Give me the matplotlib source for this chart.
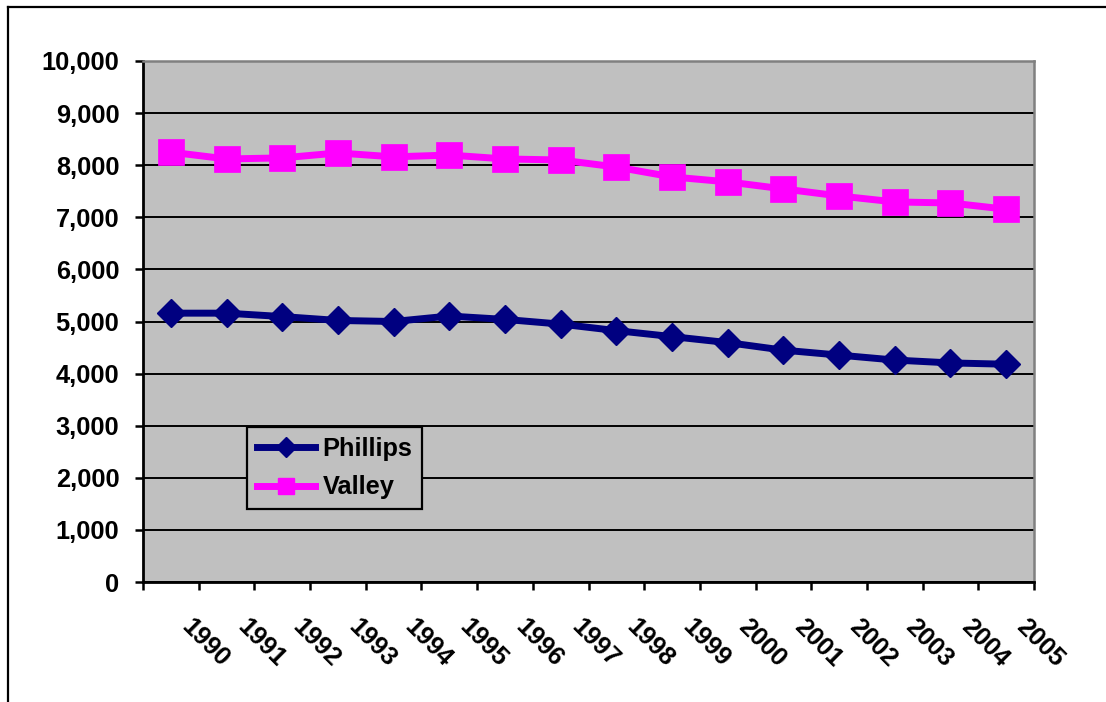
import matplotlib
matplotlib.use("Agg")
import matplotlib.pyplot as plt
from matplotlib.lines import Line2D
from matplotlib.ticker import FuncFormatter, FixedLocator
import matplotlib.transforms as mtransforms
import numpy as np

years = [str(y) for y in range(1990, 2006)]
phillips = [5160, 5160, 5095, 5020, 5000, 5105, 5040, 4950, 4825, 4710, 4595, 4450, 4355, 4260, 4205, 4180]
valley = [8250, 8120, 8140, 8235, 8160, 8195, 8120, 8100, 7965, 7775, 7680, 7545, 7410, 7295, 7275, 7155]
series_names = ["Phillips", "Valley"]

plt.rcParams['font.family'] = ['Liberation Sans', 'DejaVu Sans']
plt.rcParams['font.weight'] = 'bold'
FS = 18.3

fig = plt.figure(figsize=(11.06, 7.02), dpi=100)
ax = fig.add_axes([143/1106, 1-582/702, (1034-143)/1106, (582-61)/702])
ax.set_facecolor('#C0C0C0')

x = np.arange(len(years))
ax.plot(x, phillips, color='#000080', lw=5, marker='D', ms=14.5, mec='#000080', mew=1,
        zorder=3)
ax.plot(x, valley, color='#FF00FF', lw=5, marker='s', ms=19, mec='#FF00FF', mew=0.5,
        zorder=3)

ax.set_xlim(-0.5, len(years) - 0.5)
ax.set_ylim(0, 10000)
ax.yaxis.set_major_locator(FixedLocator(np.arange(0, 10001, 1000)))
ax.yaxis.set_major_formatter(FuncFormatter(lambda v, p: f"{int(v):,}"))
ax.yaxis.grid(True, color='black', lw=1.4)
ax.set_axisbelow(True)

bounds = np.arange(-0.5, len(years), 1.0)
ax.set_xticks(bounds)
ax.set_xticklabels([''] + years)

ax.tick_params(axis='y', direction='out', length=6, width=1.8, pad=11, labelsize=FS)
ax.tick_params(axis='x', direction='out', length=5.5, width=1.8, pad=18, labelsize=FS)

offset = mtransforms.ScaledTranslation(-5/100, 0, fig.dpi_scale_trans)
for lab in ax.get_xticklabels():
    lab.set_rotation(-45)
    lab.set_ha('left')
    lab.set_va('top')
    lab.set_rotation_mode('anchor')
    lab.set_fontweight('bold')
    lab.set_transform(lab.get_transform() + offset)
for lab in ax.get_yticklabels():
    lab.set_fontweight('bold')

for s in ['left', 'bottom']:
    ax.spines[s].set_color('black')
    ax.spines[s].set_linewidth(2.0)
for s in ['top', 'right']:
    ax.spines[s].set_color('#808080')
    ax.spines[s].set_linewidth(1.8)

handles = [
    Line2D([], [], color='#000080', lw=5, marker='D', ms=10, mec='#000080'),
    Line2D([], [], color='#FF00FF', lw=5, marker='s', ms=11, mec='#FF00FF'),
]
leg = fig.legend(handles, series_names, loc='upper left',
                 bbox_to_anchor=(247/1106, 1-427/702),
                 frameon=True, fancybox=False, framealpha=1, facecolor='#C0C0C0',
                 edgecolor='black', fontsize=FS, handlelength=2.3, handletextpad=0.3,
                 borderpad=0.38, labelspacing=0.58, borderaxespad=0)
leg.get_frame().set_linewidth(1.6)
for t in leg.get_texts():
    t.set_fontweight('bold')

# outer frame (top and left edges)
fig.add_artist(Line2D([7.5/1106, 1], [1-6.5/702, 1-6.5/702], color='black', lw=1.6,
                      transform=fig.transFigure))
fig.add_artist(Line2D([7.5/1106, 7.5/1106], [0, 1-6.5/702], color='black', lw=1.6,
                      transform=fig.transFigure))

fig.savefig('out.png', dpi=100)
